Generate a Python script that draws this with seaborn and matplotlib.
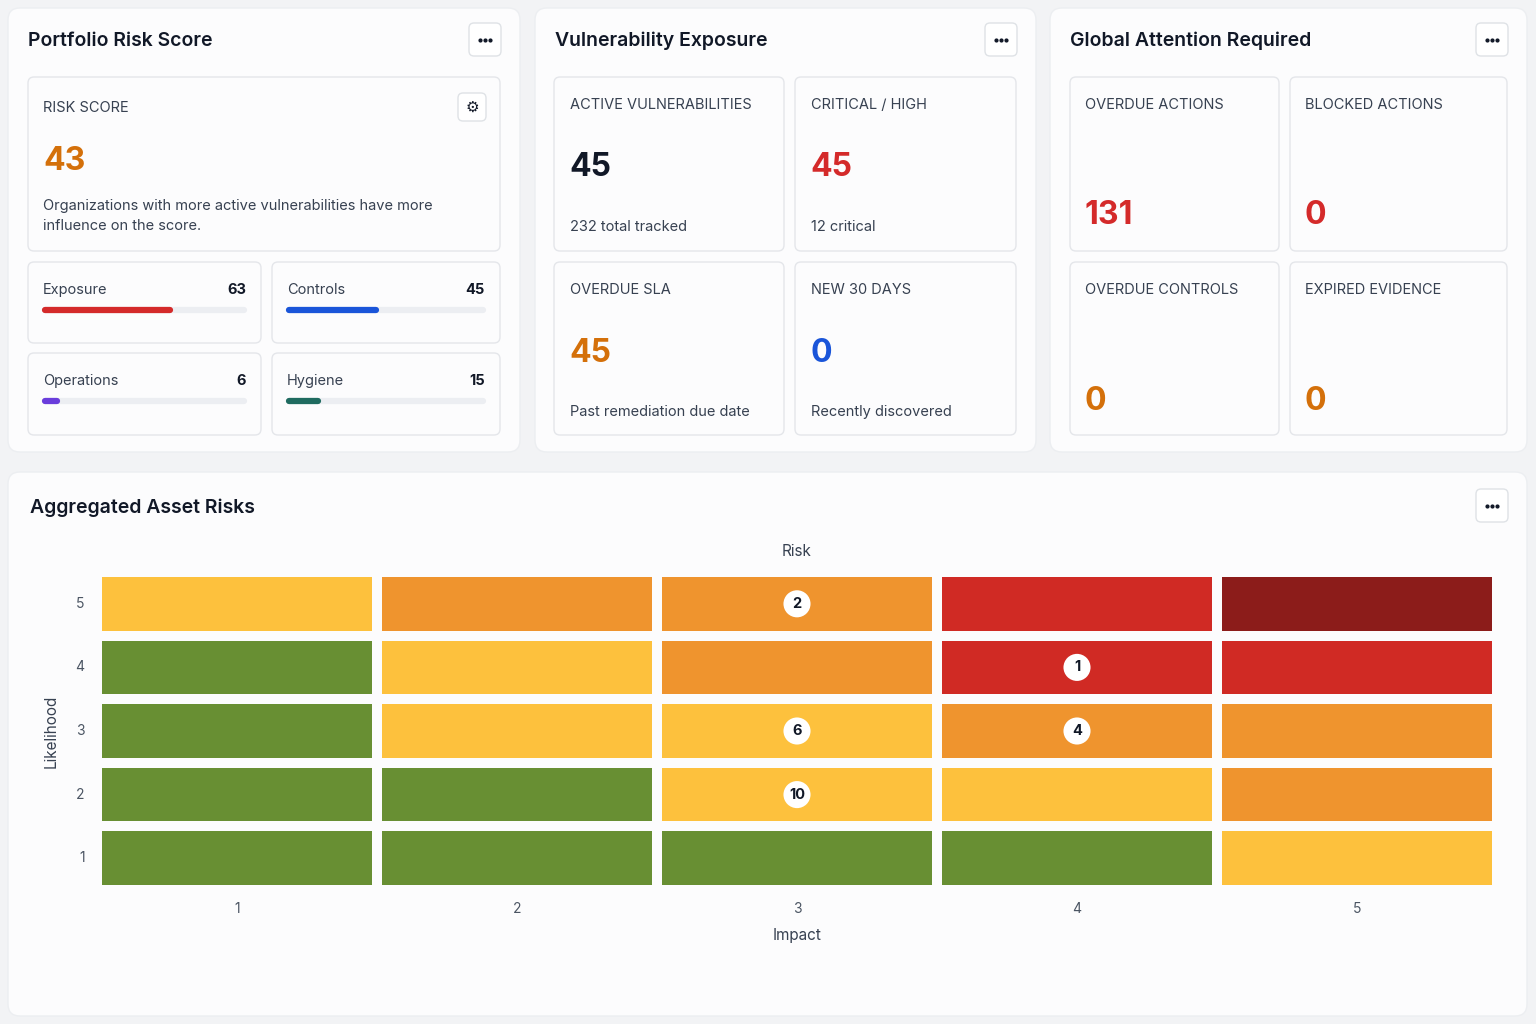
import numpy as np
import pandas as pd
import matplotlib
matplotlib.use('Agg')
import matplotlib.pyplot as plt
from matplotlib.patches import FancyBboxPatch
from matplotlib.colors import ListedColormap
import seaborn as sns

sns.set_theme(style="white")
plt.rcParams['font.family'] = ['Inter', 'DejaVu Sans']

# ---- data ----
risk_score = 43
risk_desc = "Organizations with more active vulnerabilities have more\ninfluence on the score."
sub_names = ['Exposure', 'Controls', 'Operations', 'Hygiene']
sub_values = [63, 45, 6, 15]
sub_colors = ['#d42a2a', '#1a55d9', '#6a3ddc', '#1f6b60']

vuln_labels = ['ACTIVE VULNERABILITIES', 'CRITICAL / HIGH', 'OVERDUE SLA', 'NEW 30 DAYS']
vuln_values = [45, 45, 45, 0]
vuln_notes = ['232 total tracked', '12 critical', 'Past remediation due date', 'Recently discovered']
vuln_colors = ['#111827', '#d42a2a', '#d4700a', '#1a55d9']

attn_labels = ['OVERDUE ACTIONS', 'BLOCKED ACTIONS', 'OVERDUE CONTROLS', 'EXPIRED EVIDENCE']
attn_values = [131, 0, 0, 0]
attn_colors = ['#d42a2a', '#d42a2a', '#d4700a', '#d4700a']

impact = [1, 2, 3, 4, 5]
likelihood = [5, 4, 3, 2, 1]
# risk level per cell: 0 low, 1 moderate, 2 elevated, 3 high, 4 critical
level_l5 = [1, 2, 2, 3, 4]
level_l4 = [0, 1, 2, 3, 3]
level_l3 = [0, 1, 1, 2, 2]
level_l2 = [0, 0, 1, 1, 2]
level_l1 = [0, 0, 0, 0, 1]
level_colors = ['#688f33', '#fdc13d', '#ef942e', '#d02a24', '#8c1c1a']
count_likelihood = [5, 4, 3, 3, 2]
count_impact = [3, 4, 3, 4, 3]
count_values = [2, 1, 6, 4, 10]

PAGE = '#f2f3f5'
CARD = '#fcfcfd'
BORDER = '#e4e6ea'
TITLE = '#111827'
LABEL = '#374151'

fig = plt.figure(figsize=(15.36, 10.24), dpi=100)
fig.patch.set_facecolor(PAGE)
ax = fig.add_axes([0, 0, 1, 1])
ax.set_xlim(0, 1536)
ax.set_ylim(1024, 0)
ax.axis('off')


def box(x0, y0, x1, y1, r=8, fc=CARD, ec=BORDER, lw=1.0, z=1):
    p = FancyBboxPatch((x0 + r, y0 + r), (x1 - x0) - 2 * r, (y1 - y0) - 2 * r,
                       boxstyle=f"round,pad={r}", fc=fc, ec=ec, lw=lw, zorder=z)
    ax.add_patch(p)


def menu_button(x0, y0, x1, y1):
    box(x0, y0, x1, y1, r=5, fc='white', ec='#dfe2e6', z=3)
    cx, cy = (x0 + x1) / 2, (y0 + y1) / 2
    ax.scatter([cx - 5, cx, cx + 5], [cy, cy, cy], s=4, c='#111827', zorder=4)


def card_title(x, y, s):
    ax.text(x, y, s, fontsize=14, fontweight='semibold', color=TITLE, va='center', ha='left', zorder=4)


# ---- outer cards ----
box(8, 8, 520, 452, r=12, ec='#eceef1')
box(535, 8, 1036, 452, r=12, ec='#eceef1')
box(1050, 8, 1527, 452, r=12, ec='#eceef1')
box(8, 472, 1527, 1016, r=12, ec='#eceef1')

# ---- Portfolio Risk Score ----
card_title(28, 41, 'Portfolio Risk Score')
menu_button(469, 23, 501, 56)
box(28, 77, 500, 251, r=6, z=2)
ax.text(43, 108, 'RISK SCORE', fontsize=10.5, color=LABEL, va='center', zorder=4)
box(458, 93, 486, 121, r=5, fc='white', ec='#dfe2e6', z=3)
ax.text(472, 107, '\u2699', fontsize=11, color=TITLE, ha='center', va='center',
        family=['DejaVu Sans'], zorder=4)
ax.text(43, 162, str(risk_score), fontsize=23, fontweight='bold', color='#d4700a', va='center', zorder=4)
ax.text(43, 216, risk_desc, fontsize=10.5, color=LABEL, va='center', linespacing=1.6, zorder=4)

sub_boxes = [(28, 262, 261, 343), (272, 262, 500, 343), (28, 353, 261, 435), (272, 353, 500, 435)]
for (x0, y0, x1, y1), name, val, col in zip(sub_boxes, sub_names, sub_values, sub_colors):
    box(x0, y0, x1, y1, r=6, z=2)
    lx, rx = x0 + 15, x1 - 15
    ax.text(lx, y0 + 28, name, fontsize=10.5, color=LABEL, va='center', zorder=4)
    ax.text(rx, y0 + 28, str(val), fontsize=10.5, fontweight='bold', color=TITLE, va='center', ha='right', zorder=4)
    by = y0 + 48
    ax.plot([lx + 2, rx - 2], [by, by], color='#eceef2', lw=4.5, solid_capstyle='round', zorder=3)
    ax.plot([lx + 2, lx + 2 + (rx - lx - 4) * val / 100], [by, by], color=col, lw=4.5,
            solid_capstyle='round', zorder=4)

# ---- Vulnerability Exposure ----
card_title(555, 41, 'Vulnerability Exposure')
menu_button(985, 23, 1017, 56)
vuln_boxes = [(554, 77, 784, 251), (795, 77, 1016, 251), (554, 262, 784, 435), (795, 262, 1016, 435)]
for (x0, y0, x1, y1), lab, val, note, col in zip(vuln_boxes, vuln_labels, vuln_values, vuln_notes, vuln_colors):
    box(x0, y0, x1, y1, r=6, z=2)
    ax.text(x0 + 16, y0 + 28, lab, fontsize=10.5, color=LABEL, va='center', zorder=4)
    ax.text(x0 + 15, y0 + 91, str(val), fontsize=23, fontweight='bold', color=col, va='center', zorder=4)
    ax.text(x0 + 16, y0 + 150, note, fontsize=10.5, color=LABEL, va='center', zorder=4)

# ---- Global Attention Required ----
card_title(1070, 41, 'Global Attention Required')
menu_button(1476, 23, 1508, 56)
attn_boxes = [(1070, 77, 1279, 251), (1290, 77, 1507, 251), (1070, 262, 1279, 435), (1290, 262, 1507, 435)]
for (x0, y0, x1, y1), lab, val, col in zip(attn_boxes, attn_labels, attn_values, attn_colors):
    box(x0, y0, x1, y1, r=6, z=2)
    ax.text(x0 + 15, y0 + 28, lab, fontsize=10.5, color=LABEL, va='center', zorder=4)
    ax.text(x0 + 15, y0 + 139, str(val), fontsize=23, fontweight='bold', color=col, va='center', zorder=4)

# ---- Aggregated Asset Risks ----
card_title(30, 508, 'Aggregated Asset Risks')
menu_button(1476, 489, 1508, 522)

levels = pd.DataFrame([level_l5, level_l4, level_l3, level_l2, level_l1], index=likelihood, columns=impact)
W, H = 1536, 1024
hx0, hx1, hy0, hy1 = 97, 1497, 572, 890
hax = fig.add_axes([hx0 / W, 1 - hy1 / H, (hx1 - hx0) / W, (hy1 - hy0) / H])
sns.heatmap(levels, cmap=ListedColormap(level_colors), vmin=-0.5, vmax=4.5, cbar=False,
            linewidths=6, linecolor=CARD, ax=hax)
hax.set_facecolor(CARD)
for l, i, c in zip(count_likelihood, count_impact, count_values):
    r = likelihood.index(l) + 0.5
    cc = impact.index(i) + 0.5
    hax.scatter([cc], [r], s=380, c='white', edgecolors='none', zorder=3)
    hax.text(cc, r, str(c), fontsize=10.5, fontweight='bold', color=TITLE, ha='center', va='center', zorder=4)

hax.set_title('Risk', fontsize=11, color=LABEL, pad=11.5)
hax.set_xlabel('Impact', fontsize=11, color=LABEL, labelpad=9)
hax.set_ylabel('Likelihood', fontsize=11, color=LABEL, labelpad=12)
hax.tick_params(axis='both', length=0, labelsize=10, labelcolor='#4b5563')
hax.tick_params(axis='x', pad=8.5)
hax.tick_params(axis='y', pad=9)
plt.setp(hax.get_yticklabels(), rotation=0)
for s in hax.spines.values():
    s.set_visible(False)

fig.savefig('out.png', dpi=100, facecolor=PAGE)
